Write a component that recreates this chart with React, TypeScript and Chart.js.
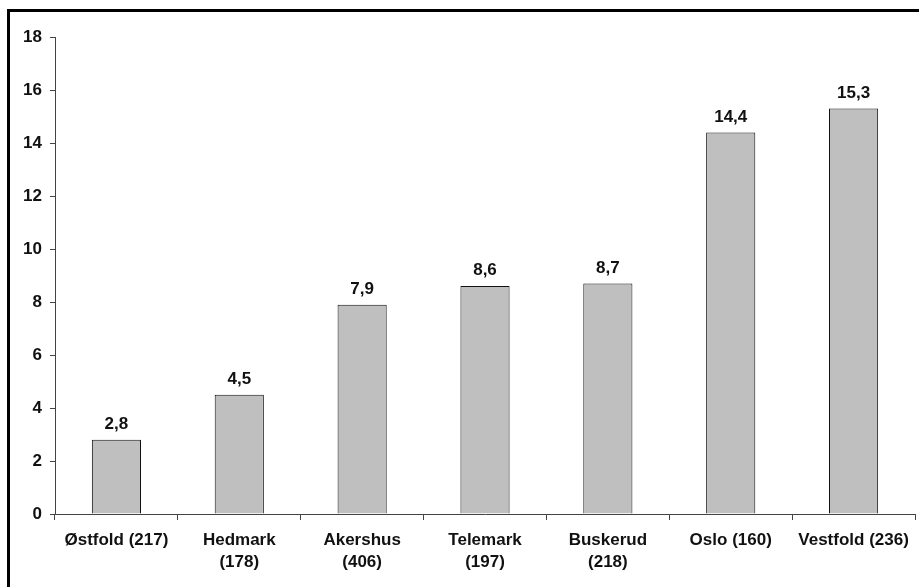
import React, { useEffect, useRef } from "react";
import { Chart, registerables } from "chart.js";

Chart.register(...registerables);

const categories: (string | string[])[] = [
  "Østfold (217)",
  ["Hedmark", "(178)"],
  ["Akershus", "(406)"],
  ["Telemark", "(197)"],
  ["Buskerud", "(218)"],
  "Oslo (160)",
  "Vestfold (236)",
];
const values: number[] = [2.8, 4.5, 7.9, 8.6, 8.7, 14.4, 15.3];
const yTicks: number[] = [0, 2, 4, 6, 8, 10, 12, 14, 16, 18];

const FONT = "'Liberation Sans', Arial, sans-serif";

const framePlugin = {
  id: "frame",
  afterDraw(chart: any) {
    const ctx = chart.ctx;
    ctx.save();
    ctx.fillStyle = "#000";
    ctx.fillRect(7, 9, 919 - 7, 3);
    ctx.fillRect(7, 9, 3, 587 - 9);
    ctx.restore();
  },
};

const labelPlugin = {
  id: "valueLabels",
  afterDatasetsDraw(chart: any) {
    const ctx = chart.ctx;
    const meta = chart.getDatasetMeta(0);
    ctx.save();
    ctx.font = `bold 17px ${FONT}`;
    ctx.fillStyle = "#111";
    ctx.textAlign = "center";
    ctx.textBaseline = "bottom";
    meta.data.forEach((bar: any, i: number) => {
      ctx.fillText(values[i].toFixed(1).replace(".", ","), bar.x, bar.y - 7);
    });
    ctx.restore();
  },
};

export default function App() {
  const ref = useRef<HTMLCanvasElement>(null);
  useEffect(() => {
    if (!ref.current) return;
    const chart = new Chart(ref.current, {
      type: "bar",
      data: {
        labels: categories,
        datasets: [
          {
            data: values,
            backgroundColor: "#bfbfbf",
            borderColor: "#111",
            borderWidth: 1,
            barPercentage: 0.4,
            categoryPercentage: 1,
          },
        ],
      },
      options: {
        animation: false,
        responsive: false,
        maintainAspectRatio: false,
        layout: { padding: { left: 0, right: 4, top: 37, bottom: 0 } },
        plugins: { legend: { display: false }, tooltip: { enabled: false } },
        scales: {
          x: {
            offset: true,
            grid: {
              display: true,
              drawOnChartArea: false,
              drawTicks: true,
              tickLength: 6,
              offset: true,
              color: "#444",
            },
            border: { display: true, color: "#444", width: 1 },
            ticks: {
              color: "#111",
              font: { family: FONT, size: 17, weight: "bold", lineHeight: 1.3 },
              padding: 9,
              maxRotation: 0,
              autoSkip: false,
            },
            afterFit(scale: any) {
              scale.height = 73;
            },
          },
          y: {
            min: 0,
            max: 18,
            afterBuildTicks(scale: any) {
              scale.ticks = yTicks.map((v) => ({ value: v }));
            },
            grid: {
              display: true,
              drawOnChartArea: false,
              drawTicks: true,
              tickLength: 5,
              color: "#444",
            },
            border: { display: true, color: "#444", width: 1 },
            ticks: {
              color: "#111",
              font: { family: FONT, size: 17, weight: "bold" },
              padding: 8,
            },
            afterFit(scale: any) {
              scale.width = 55;
            },
          },
        },
      },
      plugins: [labelPlugin, framePlugin],
    } as any);
    return () => chart.destroy();
  }, []);
  return (
    <div style={{ position: "fixed", left: 0, top: 0, width: 919, height: 587, background: "#fff" }}>
      <canvas ref={ref} width={919} height={587} style={{ display: "block" }} />
    </div>
  );
}
